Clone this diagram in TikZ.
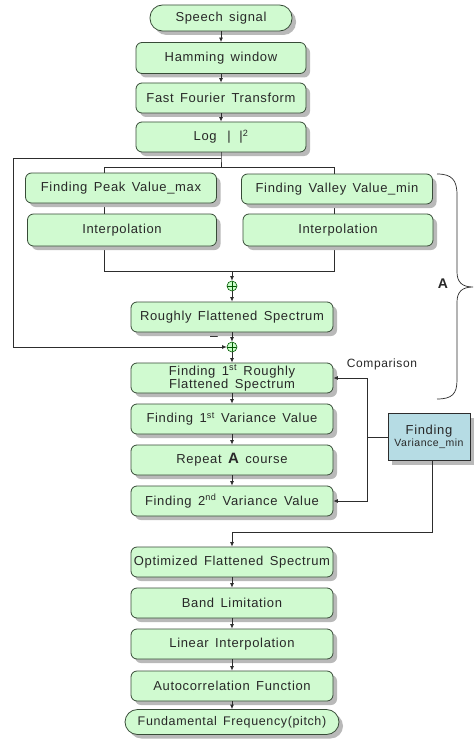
\documentclass[tikz,border=0pt]{standalone}
\usepackage{fontspec}
\setmainfont{Liberation Sans}[LetterSpace=5,WordSpace=1.5]
\usetikzlibrary{shadows,arrows.meta}
\definecolor{boxfill}{RGB}{208,250,208}
\definecolor{boxline}{RGB}{55,75,55}
\definecolor{varfill}{RGB}{182,220,228}
\definecolor{lncol}{RGB}{45,45,45}
\definecolor{shcol}{RGB}{185,185,185}
\definecolor{txtcol}{RGB}{40,40,40}
\begin{document}
\begin{tikzpicture}[x=1pt,y=-1pt,
  ln/.style={draw=lncol,line width=0.8pt},
  arr/.style={ln,-{Latex[length=4.5pt,width=4pt]}},
  shad/.style={drop shadow={shadow xshift=4pt,shadow yshift=-4pt,fill=shcol,opacity=1}},
  box/.style={draw=boxline,fill=boxfill,line width=0.8pt,rounded corners=6pt,
    minimum width=202pt,minimum height=30pt,inner sep=0pt,shad,text=txtcol,
    font=\fontsize{13}{15}\selectfont},
  smallbox/.style={box,minimum width=170pt},
  sidebox/.style={box,minimum width=191pt},
  term/.style={box,rounded corners=12.5pt,minimum height=26pt},
  plusnode/.style={circle,draw=green!35!black,fill=green!20,line width=0.6pt,
    minimum size=10pt,inner sep=0pt,
    path picture={\draw[green!35!black,line width=0.6pt]
      (path picture bounding box.north) -- (path picture bounding box.south)
      (path picture bounding box.west) -- (path picture bounding box.east);}}
]
\useasboundingbox (0,0) rectangle (474,741);
\fill[white] (0,0) rectangle (474,741);

% background branch lines
\coordinate (j1) at (221,158);
\coordinate (j2) at (221,167);
\coordinate (bl) at (104,167);
\coordinate (br) at (334,167);
\coordinate (br2) at (334,271);
\coordinate (bl2) at (104,271);
\coordinate (jm) at (232,271);
\coordinate (lc) at (13,347);
\draw[ln] (bl) -- (br) -- (br2) -- (bl2) -- cycle;

% main column
\node[term,minimum width=142pt] (speech) at (221,18) {Speech signal};
\node[smallbox,minimum height=31pt] (ham) at (221,58) {Hamming window};
\node[smallbox] (fft) at (221,98) {Fast Fourier Transform};
\node[smallbox] (log) at (221,137) {Log \,\,|\,\,\,\,|\textsuperscript{2}};

\node[sidebox] (peak) at (121,188) {Finding Peak Value\_max};
\node[sidebox] (valley) at (337,189) {Finding Valley Value\_min};
\node[sidebox,minimum width=189pt,minimum height=32pt] (intl) at (122,230) {Interpolation};
\node[sidebox,minimum width=190pt,minimum height=32pt] (intr) at (338,230) {Interpolation};

\node[plusnode] (plus1) at (232,286) {};
\node[box] (rough) at (232,317) {Roughly Flattened Spectrum};
\node[plusnode] (plus2) at (232,347) {};
\node[text=txtcol,font=\fontsize{14}{14}\selectfont] (minus) at (214,338) {\textendash};

\node[box,align=center,font=\fontsize{13}{11.5}\selectfont] (f1r) at (232,378)
  {Finding 1\textsuperscript{st} Roughly\\Flattened Spectrum};
\node[box] (v1) at (232,419) {Finding 1\textsuperscript{st} Variance Value};
\node[box] (rep) at (232,460) {Repeat {\fontsize{15}{15}\selectfont\bfseries A} course};
\node[box] (v2) at (232,501) {Finding 2\textsuperscript{nd} Variance Value};

\node[box] (opt) at (232,562) {Optimized Flattened Spectrum};
\node[box] (band) at (232,603) {Band Limitation};
\node[box] (lin) at (232,644) {Linear Interpolation};
\node[box] (auto) at (232,686) {Autocorrelation Function};
\node[term,minimum width=214pt,minimum height=25pt,font=\fontsize{12.5}{14}\selectfont] (fund) at (232,722) {Fundamental Frequency(pitch)};

\node[draw=lncol,fill=varfill,line width=0.8pt,minimum width=82pt,minimum height=47pt,
  inner sep=0pt,align=center,shad,text=txtcol,font=\fontsize{13}{13}\selectfont] (var) at (429,437)
  {Finding\\[-1pt]{\fontsize{10.5}{12}\selectfont Variance\_min}};

% connectors
\draw[arr] (speech) -- (ham);
\draw[arr] (ham) -- (fft);
\draw[arr] (fft) -- (log);
\draw[ln] (log.south) -- (j1) -- (j2);
\draw[arr] (j1) -| (lc) -- (plus2);
\draw[arr] (jm) -- (plus1);
\draw[arr] (plus1) -- (rough);
\draw[arr] (rough) -- (plus2);
\draw[arr] (plus2) -- (f1r);
\draw[arr] (f1r) -- (v1);
\draw[arr] (v1) -- (rep);
\draw[arr] (rep) -- (v2);
\draw[arr] (opt) -- (band);
\draw[arr] (band) -- (lin);
\draw[arr] (lin) -- (auto);
\draw[arr] (auto) -- (fund);

\coordinate (vc) at (367,437);
\coordinate (vs) at (432,532);
\draw[ln] (var.west) -- (vc);
\draw[arr] (vc) |- (f1r.east);
\draw[arr] (vc) |- (v2.east);
\draw[arr] (var.south -| vs) -- (vs) -| (opt.north);

% brace and labels
\draw[ln,line width=0.7pt] (437,174) .. controls (452,174) and (457,180) .. (457,195)
  -- (457,272) .. controls (457,282) and (462,287) .. (473,287)
  .. controls (462,287) and (457,292) .. (457,302)
  -- (457,380) .. controls (457,394) and (452,399) .. (437,399);
\node[text=txtcol,font=\fontsize{14}{14}\selectfont\bfseries] (labA) at (443,284) {A};
\node[text=txtcol,font=\fontsize{12}{14}\selectfont] (cmp) at (382,364) {Comparison};
\end{tikzpicture}
\end{document}
